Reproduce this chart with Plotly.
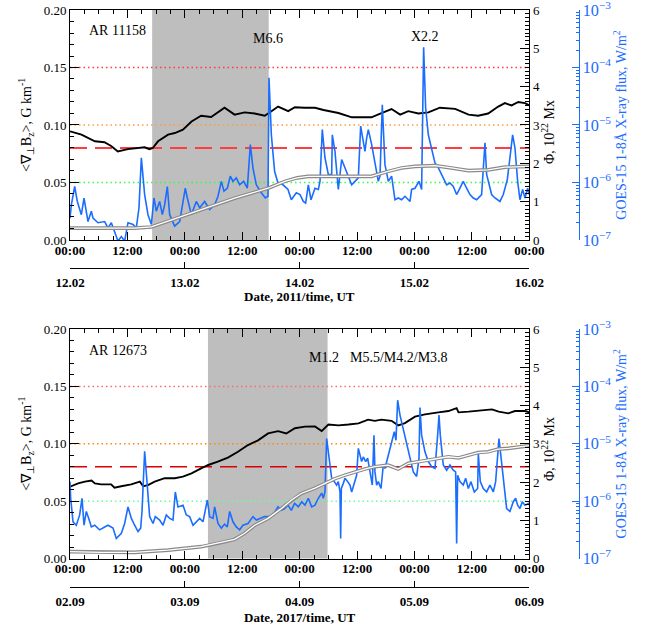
import pandas as pd
import plotly.graph_objects as go

# ---------------- DATA ----------------
TOP_START = "2011-02-12 00:00"
TOP_END = "2011-02-16 00:00"
BOT_START = "2017-09-02 00:00"
BOT_END = "2017-09-06 00:00"

top_shade = ["2011-02-12 17:10", "2011-02-13 17:32"]
bot_shade = ["2017-09-03 04:50", "2017-09-04 05:50"]

thresholds = [0.15, 0.10, 0.08, 0.05]

# Top panel (AR 11158) - hours since TOP_START
top_grad_h = [0, 2.4, 5.2, 7.2, 8.6, 10.0, 12.1, 14.9, 15.6, 16.6, 17.3, 18.4, 20.5, 21.9, 23.6, 25.4,
              27.4, 29.5, 32.3, 34.4, 36.5, 38.6, 40.7, 42.1, 43.5, 45.6, 47.0, 49.0, 51.2, 53.0, 56.1,
              58.9, 63.0, 65.1, 67.2, 69.0, 70.7, 72.8, 74.9, 77.3, 80.5, 83.3, 85.3, 87.4, 89.5, 90.9,
              92.3, 93.7, 95.1, 96.0]
top_grad = [0.0945, 0.0916, 0.0858, 0.085, 0.0817, 0.077, 0.079, 0.080, 0.0806, 0.079, 0.080, 0.0858,
            0.0916, 0.093, 0.0959, 0.103, 0.108, 0.107, 0.115, 0.109, 0.111, 0.110, 0.108, 0.112, 0.116,
            0.112, 0.1154, 0.115, 0.115, 0.113, 0.1104, 0.1067, 0.1067, 0.1104, 0.1139, 0.109, 0.112,
            0.110, 0.111, 0.115, 0.114, 0.109, 0.108, 0.110, 0.116, 0.119, 0.117, 0.120, 0.119, 0.117]

top_phi_h = [0, 6.5, 13.5, 17, 20.5, 24.0, 27.4, 31.0, 34.4, 37.9, 41.4, 44.9, 47.5, 49.8, 53.9, 57.5,
             63.0, 66.5, 69.3, 72.1, 76.3, 79.7, 83.3, 87.4, 90.9, 96.0]
top_phi = [0.31, 0.31, 0.31, 0.34, 0.49, 0.66, 0.79, 0.96, 1.09, 1.22, 1.35, 1.53, 1.62, 1.66, 1.66, 1.66,
           1.66, 1.79, 1.88, 1.92, 1.94, 1.88, 1.81, 1.83, 1.90, 1.92]

top_goes_h = [0.0, 0.28, 0.98, 1.53, 2.37, 2.93, 3.76, 4.46, 4.81, 5.85, 7.24, 7.94, 8.64, 9.33, 10.03,
              10.73, 11.42, 12.12, 13.17, 13.86, 14.42, 14.91, 15.60, 16.30, 17.00, 17.55, 18.04, 18.74,
              19.30, 19.78, 20.34, 20.83, 21.87, 22.92, 24.10, 24.52, 25.36, 26.40, 27.10, 28.14, 29.19,
              30.23, 30.93, 31.63, 32.18, 32.88, 33.51, 34.06, 34.76, 35.46, 36.29, 37.06, 37.69, 38.24,
              38.94, 39.99, 40.82, 41.38, 41.59, 42.08, 42.77, 43.47, 44.51, 45.56, 46.26, 47.30, 48.07,
              48.76, 49.25, 49.81, 50.37, 51.20, 51.90, 52.25, 52.73, 53.29, 53.99, 54.69, 54.82, 55.38,
              56.08, 56.78, 57.47, 58.17, 58.87, 59.56, 60.26, 60.75, 61.30, 61.65, 62.00, 62.35, 63.05,
              63.74, 64.44, 64.79, 65.27, 65.83, 66.53, 67.22, 67.92, 68.62, 69.31, 70.01, 70.71, 71.06,
              71.40, 72.10, 72.94, 73.49, 73.91, 74.33, 74.89, 75.58, 76.28, 76.84, 77.67, 78.72, 79.41,
              80.11, 80.81, 81.50, 82.20, 82.90, 83.59, 84.29, 84.99, 86.03, 86.73, 87.08, 88.12, 88.82,
              89.86, 90.56, 90.91, 91.40, 91.95, 92.51, 93.00, 93.56, 94.04, 94.60, 95.09, 95.65, 96.0]
top_goes_log = [-6.62, -6.39, -6.07, -6.33, -6.56, -6.27, -6.68, -6.50, -6.62, -6.70, -6.68, -6.79, -6.70,
                -6.85, -7.02, -6.94, -7.02, -6.70, -6.73, -6.79, -6.44, -5.57, -6.21, -6.56, -6.73, -6.27,
                -6.50, -6.33, -6.56, -6.39, -6.07, -6.56, -6.76, -6.68, -6.10, -6.27, -6.56, -6.33, -6.44,
                -6.33, -6.47, -6.39, -6.24, -5.98, -6.15, -6.10, -5.89, -5.98, -5.92, -6.04, -5.98, -6.10,
                -5.34, -5.75, -6.04, -6.18, -6.27, -6.24, -4.18, -5.17, -5.81, -6.01, -6.04, -6.12, -6.30,
                -6.18, -6.21, -6.33, -6.36, -6.04, -6.30, -6.10, -6.12, -5.98, -5.08, -5.57, -5.86, -5.86,
                -5.17, -5.46, -6.12, -5.60, -5.75, -5.92, -6.04, -5.98, -5.92, -5.02, -5.28, -5.46, -5.23,
                -5.08, -5.34, -5.69, -5.98, -5.89, -4.65, -5.69, -5.98, -5.89, -6.30, -6.27, -6.30, -6.24,
                -6.30, -6.33, -6.12, -6.10, -5.98, -6.12, -3.65, -4.70, -5.17, -5.40, -5.66, -5.72, -5.86,
                -6.04, -6.01, -6.07, -6.21, -6.10, -5.98, -6.10, -6.21, -6.27, -6.30, -6.21, -5.31, -5.86,
                -6.21, -6.27, -6.33, -6.21, -6.10, -5.95, -5.57, -5.17, -5.40, -5.98, -6.30, -6.12, -6.27,
                -6.10, -6.21]

# Bottom panel (AR 12673) - hours since BOT_START
bot_grad_h = [0, 1.7, 3.1, 4.5, 5.2, 6.5, 8.6, 9.3, 10.7, 12.8, 14.6, 15.3, 16.3, 17.7, 19.8, 21.9, 23.6,
              25.4, 27.4, 28.9, 30.9, 33.0, 35.1, 37.2, 39.3, 41.4, 43.5, 45.2, 47.0, 49.1, 51.2, 52.6,
              54.0, 56.1, 58.2, 60.3, 62.3, 63.7, 65.1, 67.2, 68.6, 70.0, 72.1, 74.2, 77.0, 79.1, 80.8,
              81.2, 83.3, 86.1, 88.2, 89.6, 91.6, 93.0, 95.1, 96.0]
bot_grad = [0.0626, 0.0655, 0.067, 0.068, 0.0655, 0.0646, 0.0646, 0.0617, 0.063, 0.0646, 0.067, 0.063,
            0.064, 0.067, 0.070, 0.070, 0.0713, 0.0742, 0.0786, 0.0815, 0.0844, 0.088, 0.093, 0.0989,
            0.103, 0.109, 0.111, 0.109, 0.1135, 0.1149, 0.115, 0.111, 0.1168, 0.116, 0.1168, 0.1178,
            0.121, 0.120, 0.121, 0.120, 0.116, 0.118, 0.1236, 0.1256, 0.1274, 0.1285, 0.131, 0.1274,
            0.128, 0.1294, 0.130, 0.128, 0.1265, 0.1285, 0.1285, 0.1274]

bot_phi_h = [0, 6.5, 13.5, 20.5, 27.4, 31.0, 34.4, 36.5, 38.6, 41.4, 44.2, 46.3, 48.3, 51.2, 53.3, 55.4,
             57.5, 59.6, 61.6, 63.7, 66.5, 68.6, 70.7, 72.8, 74.9, 77.0, 79.1, 81.2, 83.3, 85.3, 87.4,
             89.5, 91.6, 93.7, 96.0]
bot_phi = [0.18, 0.16, 0.16, 0.22, 0.31, 0.40, 0.50, 0.66, 0.87, 1.05, 1.31, 1.53, 1.70, 1.84, 1.97, 2.09,
           2.18, 2.27, 2.34, 2.40, 2.44, 2.34, 2.49, 2.53, 2.57, 2.62, 2.66, 2.63, 2.70, 2.77, 2.79,
           2.86, 2.88, 2.92, 2.95]

bot_goes_h = [0.0, 0.14, 0.63, 1.32, 2.02, 2.51, 2.93, 3.41, 3.90, 4.46, 5.16, 6.20, 7.24, 7.94, 8.99,
              9.68, 10.73, 11.42, 12.12, 12.82, 13.51, 14.21, 14.77, 15.05, 15.60, 16.16, 16.65, 17.35,
              17.83, 18.74, 19.44, 20.13, 20.83, 21.53, 22.01, 22.57, 23.62, 24.31, 25.01, 25.71, 26.40,
              27.10, 27.80, 28.28, 28.70, 29.19, 29.89, 30.23, 30.93, 31.63, 32.32, 32.88, 33.37, 34.06,
              34.76, 35.46, 36.15, 37.20, 38.24, 38.94, 39.99, 40.68, 41.73, 42.42, 43.47, 44.17, 44.86,
              45.56, 46.26, 46.95, 47.72, 48.42, 49.11, 49.81, 50.51, 51.20, 51.90, 52.60, 52.94, 53.29,
              53.64, 54.13, 54.69, 55.24, 55.73, 56.08, 56.43, 56.57, 56.71, 57.12, 57.47, 58.03, 58.52,
              58.87, 59.42, 59.91, 60.26, 60.61, 60.95, 61.30, 61.79, 62.21, 62.70, 63.18, 63.53, 63.74,
              64.09, 64.44, 65.00, 65.48, 65.83, 66.39, 67.22, 67.78, 68.13, 68.48, 68.97, 69.45, 70.01,
              70.57, 71.06, 71.75, 72.45, 72.94, 73.15, 73.49, 74.19, 74.89, 75.58, 76.28, 76.84, 77.12,
              77.39, 78.02, 78.72, 79.41, 80.11, 80.60, 80.81, 81.02, 81.50, 82.20, 82.69, 83.25, 83.80,
              84.50, 85.20, 85.34, 85.75, 86.38, 87.08, 87.77, 88.47, 88.96, 89.66, 90.21, 90.77, 91.26,
              91.95, 92.65, 93.14, 93.56, 94.04, 94.53, 95.09, 95.79, 96.0]
bot_goes_log = [-5.66, -5.95, -6.36, -6.42, -6.24, -5.95, -6.42, -6.18, -6.30, -6.45, -6.42, -6.50, -6.45,
                -6.42, -6.47, -6.65, -6.56, -6.39, -6.10, -6.30, -6.42, -6.53, -6.47, -6.18, -5.13, -5.72,
                -6.27, -6.39, -6.27, -6.33, -6.42, -6.24, -6.30, -6.33, -5.84, -6.10, -6.07, -6.24, -6.27,
                -6.42, -6.36, -6.30, -6.36, -6.18, -5.98, -6.27, -6.30, -6.10, -6.39, -6.47, -6.40, -6.45,
                -6.18, -6.36, -6.45, -6.50, -6.42, -6.39, -6.27, -6.33, -6.30, -6.27, -6.27, -6.24, -6.10,
                -6.16, -6.13, -6.07, -6.16, -6.04, -6.10, -6.01, -6.07, -5.95, -6.10, -6.07, -5.95, -5.86,
                -5.95, -5.84, -4.91, -5.25, -5.60, -5.66, -5.72, -5.66, -5.84, -6.65, -5.78, -5.69, -5.60,
                -5.66, -5.72, -5.84, -5.66, -5.55, -5.08, -5.20, -5.31, -5.23, -5.31, -5.25, -5.49, -5.72,
                -4.85, -5.49, -5.72, -5.66, -5.78, -5.37, -5.43, -5.25, -5.02, -4.79, -4.94, -4.24, -4.50,
                -4.67, -4.85, -5.08, -5.25, -5.49, -5.57, -5.25, -4.37, -4.85, -5.14, -5.31, -5.40, -5.43,
                -4.85, -4.50, -4.85, -5.37, -5.46, -5.37, -5.46, -5.49, -6.74, -5.55, -5.66, -5.72, -5.60,
                -5.78, -5.66, -5.84, -5.78, -5.17, -5.66, -5.78, -5.84, -5.72, -5.84, -5.66, -4.91, -5.37,
                -5.72, -6.13, -6.18, -6.01, -5.95, -6.07, -6.13, -6.01, -6.07, -6.04, -6.07]

# ---------------- STYLE ----------------
SERIF = "Liberation Serif, Times New Roman, serif"
BLUE = "#1a6dff"
XD = 0.9024
TOP_DOM = [0.6102, 1.0]
BOT_DOM = [0.0703, 0.4593]
TOP_DATE_POS = 0.5627
BOT_DATE_POS = 0.0220

top_line_colors = ["#ff3b3b", "#ff9d3c", "#ff3f3f", "#33ff44"]
bot_line_colors = ["#ff6a6a", "#ff8c00", "#dd0000", "#66ff99"]
line_dash = ["1.5px,3px", "1.5px,3px", "17px,8px", "1.5px,3px"]
top_line_w = [1.5, 1.5, 2.0, 1.5]
bot_line_w = [1.5, 1.5, 1.4, 1.5]


def times(start, hours):
    t0 = pd.Timestamp(start)
    return [t0 + pd.Timedelta(hours=h) for h in hours]


fig = go.Figure()


def add_panel(start, gh, gv, ph, pv, xh, xl, xa, xdate, yl, yphi, ygoes):
    # magnetic flux: double grey line
    fig.add_trace(go.Scatter(x=times(start, ph), y=pv, mode="lines", xaxis=xdate, yaxis=yphi,
                             line=dict(color="#8a8a8a", width=3.6), showlegend=False, hoverinfo="skip"))
    fig.add_trace(go.Scatter(x=times(start, ph), y=pv, mode="lines", xaxis=xdate, yaxis=yphi,
                             line=dict(color="white", width=1.3), showlegend=False, hoverinfo="skip"))
    # GOES flux
    fig.add_trace(go.Scatter(x=times(start, xh), y=[10 ** v for v in xl], mode="lines", xaxis=xa,
                             yaxis=ygoes, line=dict(color=BLUE, width=1.6), showlegend=False))
    # gradient
    fig.add_trace(go.Scatter(x=times(start, gh), y=gv, mode="lines", xaxis=xa, yaxis=yl,
                             line=dict(color="black", width=1.9), showlegend=False))


add_panel(TOP_START, top_grad_h, top_grad, top_phi_h, top_phi, top_goes_h, top_goes_log,
          "x", "x3", "y", "y2", "y3")
add_panel(BOT_START, bot_grad_h, bot_grad, bot_phi_h, bot_phi, bot_goes_h, bot_goes_log,
          "x2", "x4", "y4", "y5", "y6")

# shading and reference lines
shapes = []
for shade, xr, yr in [(top_shade, "x", "y"), (bot_shade, "x2", "y4")]:
    shapes.append(dict(type="rect", xref=xr, yref=f"{yr} domain", x0=shade[0], x1=shade[1], y0=0, y1=1,
                       fillcolor="#bebebe", line=dict(width=0), layer="below"))
for colors, widths, xr, yr in [(top_line_colors, top_line_w, "x", "y"), (bot_line_colors, bot_line_w, "x2", "y4")]:
    for val, c, d, w in zip(thresholds, colors, line_dash, widths):
        shapes.append(dict(type="line", xref=f"{xr} domain", yref=yr, x0=0, x1=1, y0=val, y1=val,
                           line=dict(color=c, width=w, dash=d), layer="below"))

tickf = dict(family=SERIF, size=13, color="black")
tickf_b = dict(family=SERIF, size=13, color="black", weight="bold")


def main_x(start, end, dom_anchor):
    return dict(type="date", range=[start, end], domain=[0, XD], anchor=dom_anchor, automargin=False,
                showline=True, linecolor="black", linewidth=1, mirror="ticks",
                ticks="inside", ticklen=8, tickcolor="black", tick0=start, dtick=43200000,
                tickformat="%H:%M", tickfont=tickf_b, showgrid=False, zeroline=False,
                ticklabelstandoff=-2, ticklabeloverflow="allow",
                minor=dict(ticks="inside", ticklen=4, tickcolor="black", dtick=10800000, showgrid=False))


def date_x(start, end, over, pos):
    return dict(type="date", range=[start, end], overlaying=over, anchor="free", position=pos,
                automargin=False, ticklabeloverflow="allow",
                side="bottom", showline=True, linecolor="black", linewidth=1, ticks="inside", ticklen=6,
                tickcolor="black", tick0=start, dtick=86400000, tickformat="%d.%m", tickfont=tickf_b,
                showgrid=False, zeroline=False, ticklabelstandoff=2)


def left_y(dom, anchor):
    return dict(range=[0, 0.2], domain=dom, anchor=anchor, dtick=0.05, tickformat=".2f", automargin=False,
                ticklabeloverflow="allow",
                showline=True, linecolor="black", linewidth=1, ticks="inside", ticklen=9,
                tickcolor="black", tickfont=tickf, showgrid=False, zeroline=False,
                minor=dict(ticks="inside", ticklen=4, tickcolor="black", dtick=0.01, showgrid=False),
                title=dict(text="&lt;∇<sub>⊥</sub>B<sub>z</sub>&gt;, G km<sup>-1</sup>",
                           font=dict(family=SERIF, size=14, color="black"), standoff=8))


def phi_y(over, anchor):
    return dict(range=[0, 6], overlaying=over, anchor=anchor, side="right", dtick=1, automargin=False,
                ticklabeloverflow="allow",
                showline=True, linecolor="black", linewidth=1, ticks="inside", ticklen=9,
                tickcolor="black", tickfont=tickf, showgrid=False, zeroline=False,
                minor=dict(ticks="inside", ticklen=4, tickcolor="black", dtick=0.1, showgrid=False))


def goes_y(over):
    return dict(type="log", range=[-7, -3], overlaying=over, anchor="free", position=1.0, side="right",
                dtick=1, exponentformat="power", showexponent="all", automargin=False,
                ticklabeloverflow="allow",
                showline=True, linecolor=BLUE, linewidth=1.2, ticks="inside", ticklen=7, tickcolor=BLUE,
                tickfont=dict(family=SERIF, size=13, color=BLUE), showgrid=False, zeroline=False,
                minor=dict(ticks="inside", ticklen=3, tickcolor=BLUE, dtick="D1", showgrid=False),
                title=dict(text="GOES-15 1-8Å X-ray flux, W/m<sup>2</sup>",
                           font=dict(family=SERIF, size=14, color=BLUE), standoff=5))


ann_font = dict(family=SERIF, size=14, color="black")


def ann(text, xr, yr, x, y, angle=0):
    return dict(text=text, xref=xr, yref=yr, x=x, y=y, xanchor="center", yanchor="middle",
                showarrow=False, font=ann_font, textangle=angle)


PHI_TITLE = "Φ, 10<sup>22</sup> Mx"
annotations = [
    ann("AR 11158", "x domain", "y domain", 0.1045, 0.909),
    ann("M6.6", "x domain", "y domain", 0.431, 0.878),
    ann("X2.2", "x domain", "y domain", 0.773, 0.883),
    ann("AR 12673", "x2 domain", "y4 domain", 0.1045, 0.905),
    ann("M1.2", "x2 domain", "y4 domain", 0.552, 0.877),
    ann("M5.5/M4.2/M3.8", "x2 domain", "y4 domain", 0.716, 0.877),
    ann(PHI_TITLE, "paper", "paper", 0.939, 0.793, -90),
    ann(PHI_TITLE, "paper", "paper", 0.939, 0.256, -90),
    dict(text="<b>Date, 2011/time, UT</b>", xref="paper", yref="paper", x=XD / 2, y=0.5136,
         xanchor="center", yanchor="middle",
         showarrow=False, font=dict(family=SERIF, size=13, color="black")),
    dict(text="<b>Date, 2017/time, UT</b>", xref="paper", yref="paper", x=XD / 2, y=-0.0305,
         xanchor="center", yanchor="middle",
         showarrow=False, font=dict(family=SERIF, size=13, color="black")),
]

fig.update_layout(
    width=656, height=631,
    margin=dict(l=70, r=77, t=10, b=31, autoexpand=False),
    paper_bgcolor="white", plot_bgcolor="white",
    showlegend=False,
    font=dict(family=SERIF, size=13, color="black"),
    xaxis=main_x(TOP_START, TOP_END, "y"),
    xaxis2=main_x(BOT_START, BOT_END, "y4"),
    xaxis3=date_x(TOP_START, TOP_END, "x", TOP_DATE_POS),
    xaxis4=date_x(BOT_START, BOT_END, "x2", BOT_DATE_POS),
    yaxis=left_y(TOP_DOM, "x"),
    yaxis2=phi_y("y", "x"),
    yaxis3=goes_y("y"),
    yaxis4=left_y(BOT_DOM, "x2"),
    yaxis5=phi_y("y4", "x2"),
    yaxis6=goes_y("y4"),
    shapes=shapes,
    annotations=annotations,
)

fig.write_html("out.html", config={"displayModeBar": False},
               post_script="document.body.style.margin='0';")
